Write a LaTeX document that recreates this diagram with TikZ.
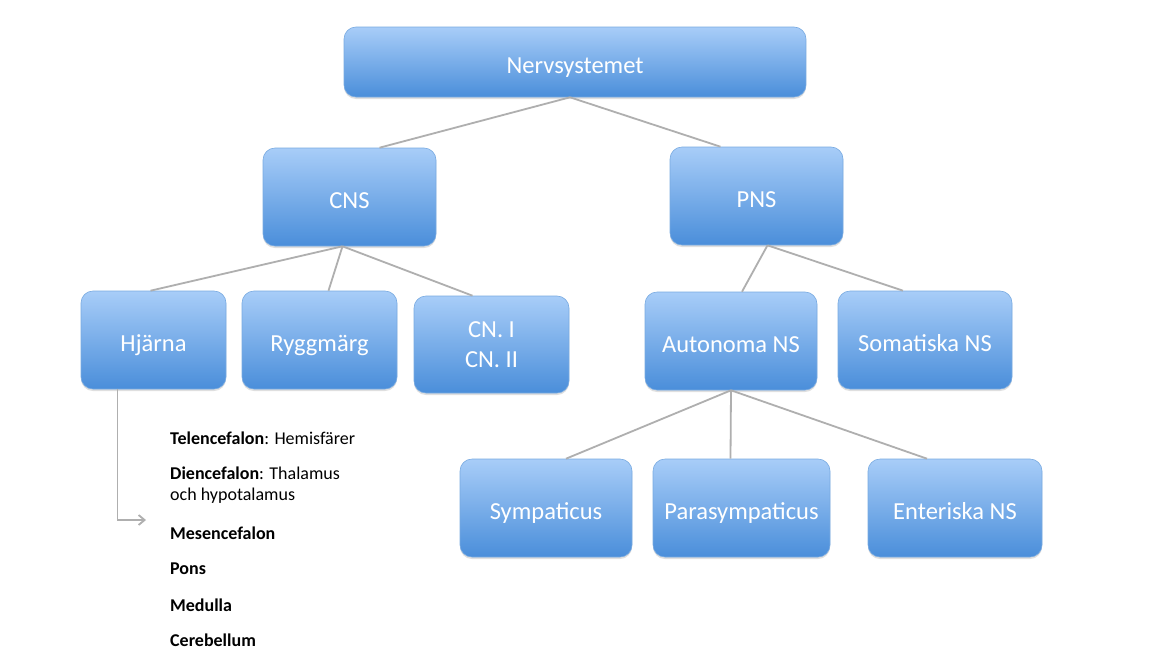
\documentclass[tikz,border=0pt]{standalone}
\usepackage{fontspec}
\setmainfont{Carlito}
\usetikzlibrary{shadows,arrows.meta}
\definecolor{boxtop}{RGB}{168,205,248}
\definecolor{boxbot}{RGB}{74,142,218}
\definecolor{boxedge}{RGB}{120,170,225}
\definecolor{linegray}{RGB}{175,175,175}
\tikzset{
  box/.style={rounded corners=12pt, top color=boxtop, bottom color=boxbot, draw=boxedge, line width=0.6pt,
    text=white, font=\fontsize{24.5}{30}\selectfont, align=center, inner sep=0pt,
    drop shadow={opacity=0.25, shadow xshift=0pt, shadow yshift=-2pt}},
  oneline/.style={text height=22pt, text depth=0pt},
  conn/.style={draw=linegray, line width=1.8pt},
  listtxt/.style={anchor=west, font=\fontsize{18}{21}\selectfont, align=left, inner sep=0pt, text=black}
}
\begin{document}
\begin{tikzpicture}[x=1pt,y=-1pt]
\useasboundingbox[fill=white] (0,0) rectangle (1170,672);
% boxes
\node[box, oneline, minimum width=462pt, minimum height=70pt] (nerv) at (575,62) {Nervsystemet};
\node[box, oneline, minimum width=173pt, minimum height=98pt] (cns) at (349.5,197) {CNS};
\node[box, oneline, minimum width=173pt, minimum height=98pt] (pns) at (756.5,196) {PNS};
\node[box, oneline, minimum width=145pt, minimum height=98pt] (hj) at (153.5,340) {Hjärna};
\node[box, oneline, minimum width=155pt, minimum height=98pt] (ry) at (319.5,340) {Ryggmärg};
\node[box, minimum width=155pt, minimum height=97pt] (cn) at (491.5,344.5) {\raisebox{0pt}{CN. I}\\CN. II};
\node[box, oneline, minimum width=172pt, minimum height=98pt] (au) at (731,341) {Autonoma NS};
\node[box, oneline, minimum width=174pt, minimum height=98pt] (so) at (925,340) {Somatiska NS};
\node[box, oneline, minimum width=172pt, minimum height=98pt] (sy) at (546,508) {Sympaticus};
\node[box, oneline, minimum width=177pt, minimum height=98pt] (pa) at (741.5,508) {Parasympaticus};
\node[box, oneline, minimum width=174pt, minimum height=98pt] (en) at (955,508) {Enteriska NS};
% connectors
\draw[conn] ([xshift=-5pt]nerv.south) -- ([xshift=30pt]cns.north);
\draw[conn] ([xshift=-5pt]nerv.south) -- ([xshift=-36pt]pns.north);
\draw[conn] ([xshift=-7pt]cns.south) -- ([xshift=-3pt]hj.north);
\draw[conn] ([xshift=-7pt]cns.south) -- ([xshift=9pt]ry.north);
\draw[conn] ([xshift=-7pt]cns.south) -- ([xshift=-19pt]cn.north);
\draw[conn] ([xshift=11pt]pns.south) -- ([xshift=11pt]au.north);
\draw[conn] ([xshift=11pt]pns.south) -- ([xshift=-22pt]so.north);
\draw[conn] ([xshift=0pt]au.south) -- ([xshift=20pt]sy.north);
\draw[conn] ([xshift=0pt]au.south) -- ([xshift=-11pt]pa.north);
\draw[conn] ([xshift=0pt]au.south) -- ([xshift=-28pt]en.north);
% list
\node[listtxt] (t1) at (170,438) {\textbf{Telencefalon}: Hemisfärer};
\node[listtxt] (t2) at (170,485) {\textbf{Diencefalon}: Thalamus\\och hypotalamus};
\node[listtxt] (t3) at (170,533) {\textbf{Mesencefalon}};
\node[listtxt] (t4) at (170,569) {\textbf{Pons}};
\node[listtxt] (t5) at (170,605) {\textbf{Medulla}};
\node[listtxt] (t6) at (170,640) {\textbf{Cerebellum}};
\coordinate (arrend) at (146,520);
\draw[draw=linegray, line width=1.8pt, -{Straight Barb[length=6pt,width=10pt]}] ([xshift=-36pt]hj.south) |- (arrend);
\end{tikzpicture}
\end{document}
